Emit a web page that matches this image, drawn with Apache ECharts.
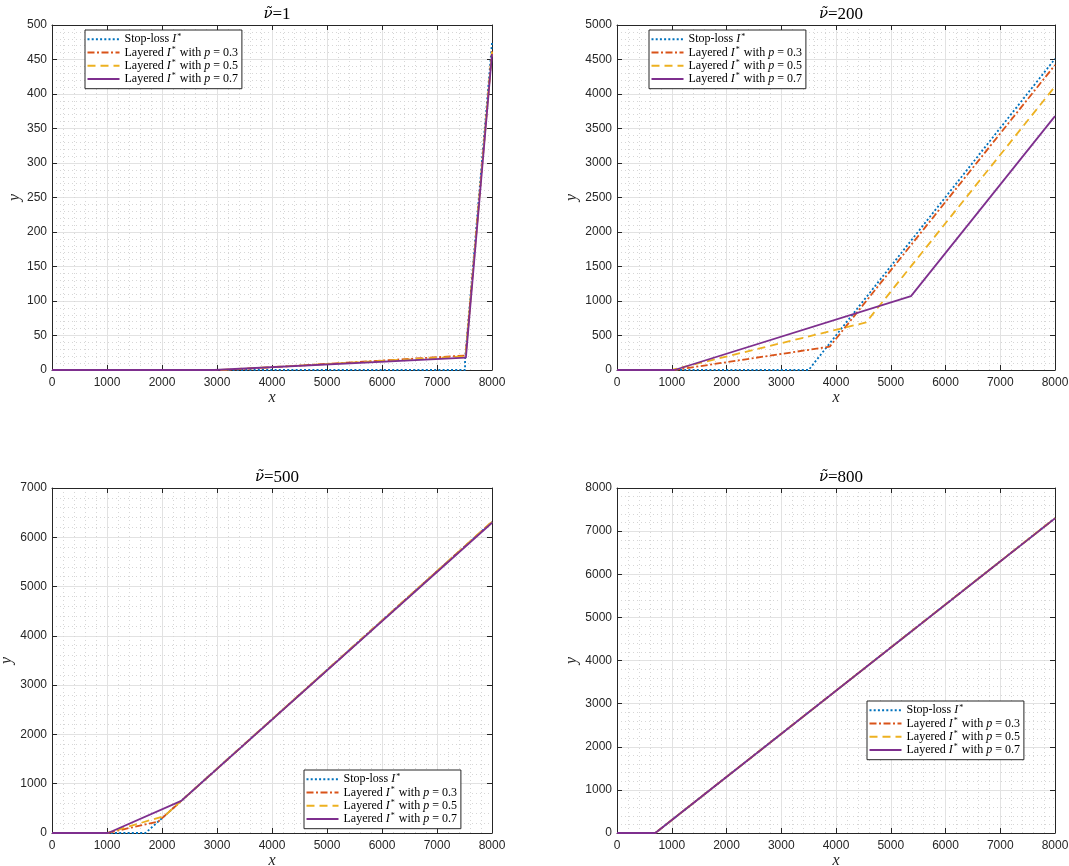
<!DOCTYPE html>
<html>
<head>
<meta charset="utf-8">
<script src="https://cdn.jsdelivr.net/npm/echarts@6/dist/echarts.min.js"></script>
<style>
  html, body { margin: 0; padding: 0; background: #ffffff; }
  #chart { width: 1069px; height: 866px; }
</style>
</head>
<body>
<div id="chart"></div>
<script>
// Panel parameters
const panelNu = ['1', '200', '500', '800'];
const xMin = 0;
const xMax = 8000;
const xStep = 1000;
const yMaxes = [500, 5000, 7000, 8000];
const ySteps = [50, 500, 1000, 1000];

const seriesNames = [
  'Stop-loss I*',
  'Layered I* with p = 0.3',
  'Layered I* with p = 0.5',
  'Layered I* with p = 0.7'
];

// nu = 1
const stopLossNu1  = [[0, 0], [7510, 0], [7510, 15], [8000, 474]];
const layered03Nu1 = [[0, 0], [3150, 0], [7520, 21], [8000, 462]];
const layered05Nu1 = [[0, 0], [3050, 0], [7520, 20], [8000, 461]];
const layered07Nu1 = [[0, 0], [2950, 0], [7525, 18], [8000, 458]];

// nu = 200
const stopLossNu200  = [[0, 0], [3500, 0], [8000, 4510]];
const layered03Nu200 = [[0, 0], [1050, 0], [3885, 338], [8000, 4420]];
const layered05Nu200 = [[0, 0], [990, 0], [4550, 690], [8000, 4110]];
const layered07Nu200 = [[0, 0], [1050, 0], [5370, 1070], [8000, 3680]];

// nu = 500
const stopLossNu500  = [[0, 0], [1700, 0], [8000, 6310]];
const layered03Nu500 = [[0, 0], [1000, 0], [1930, 230], [8000, 6312]];
const layered05Nu500 = [[0, 0], [1000, 0], [2045, 346], [8000, 6318]];
const layered07Nu500 = [[0, 0], [1020, 0], [2350, 651], [8000, 6295]];

// nu = 800
const stopLossNu800  = [[0, 0], [700, 0], [8000, 7300]];
const layered03Nu800 = [[0, 0], [700, 0], [8000, 7300]];
const layered05Nu800 = [[0, 0], [700, 0], [8000, 7300]];
const layered07Nu800 = [[0, 0], [700, 0], [8000, 7295]];

const panelData = [
  [stopLossNu1, layered03Nu1, layered05Nu1, layered07Nu1],
  [stopLossNu200, layered03Nu200, layered05Nu200, layered07Nu200],
  [stopLossNu500, layered03Nu500, layered05Nu500, layered07Nu500],
  [stopLossNu800, layered03Nu800, layered05Nu800, layered07Nu800]
];

// Layout
const grids = [
  { left: 52,  top: 25,  width: 440, height: 345 },
  { left: 617, top: 25,  width: 438, height: 345 },
  { left: 52,  top: 488, width: 440, height: 345 },
  { left: 617, top: 488, width: 438, height: 345 }
];
const legendSpots = [
  { left: 85,  top: 30 },
  { left: 649, top: 30 },
  { left: 304, top: 770 },
  { left: 867, top: 701 }
];
const yNameGaps = [29, 37, 37, 37];

const ink = '#262626';
const lineStyles = [
  { color: '#0072BD', type: [2, 2.2] },
  { color: '#D95319', type: [7, 2.5, 2, 2.5] },
  { color: '#EDB120', type: [8, 5] },
  { color: '#7E2F8E', type: 'solid' }
];

const tickFont = { fontFamily: 'Liberation Sans, Arial, Helvetica, sans-serif', fontSize: 12, color: ink };
const serif = 'Liberation Serif, DejaVu Serif, serif';

const legendRich = {
  t: { fontFamily: serif, fontSize: 12, color: '#000', lineHeight: 13.3 },
  i: { fontFamily: serif, fontSize: 12, fontStyle: 'italic', color: '#000', lineHeight: 13.3 },
  s: { fontFamily: serif, fontSize: 8, color: '#000', lineHeight: 13.3, verticalAlign: 'top', padding: [0, 1, 0, 1] }
};

function legendLabel(name) {
  const m = name.match(/^(.*?)I\*(.*)$/);
  let out = '{t|' + m[1] + '}{i|I}{s|*}';
  const rest = m[2];
  const pm = rest.match(/^(.*?)p( = .*)$/);
  if (pm) {
    out += '{t|' + pm[1] + '}{i|p}{t|' + pm[2] + '}';
  } else if (rest) {
    out += '{t|' + rest + '}';
  }
  return out;
}

const xAxes = [], yAxes = [], series = [], titles = [], legends = [];

grids.forEach((g, p) => {
  const common = { gridIndex: p, type: 'value' };
  xAxes.push(Object.assign({}, common, {
    min: xMin, max: xMax, interval: xStep, position: 'bottom',
    axisLine: { show: true, onZero: false, lineStyle: { color: ink, width: 1 } },
    axisTick: { show: true, inside: true, length: 5, lineStyle: { color: ink } },
    axisLabel: Object.assign({ margin: 7, formatter: v => String(v) }, tickFont),
    splitLine: { show: true, lineStyle: { color: '#e2e2e2', width: 1 } },
    minorTick: { show: false, splitNumber: 5 },
    minorSplitLine: { show: true, lineStyle: { color: '#d6d6d6', width: 1, type: [1, 3] } },
    name: 'x', nameLocation: 'middle', nameGap: 20,
    nameTextStyle: { fontFamily: serif, fontStyle: 'italic', fontSize: 16, color: ink }
  }));
  xAxes.push(Object.assign({}, common, {
    min: xMin, max: xMax, interval: xStep, position: 'top',
    axisLine: { show: true, onZero: false, lineStyle: { color: ink, width: 1 } },
    axisTick: { show: true, inside: true, length: 5, lineStyle: { color: ink } },
    axisLabel: { show: false },
    splitLine: { show: false }
  }));
  yAxes.push(Object.assign({}, common, {
    min: 0, max: yMaxes[p], interval: ySteps[p], position: 'left',
    axisLine: { show: true, onZero: false, lineStyle: { color: ink, width: 1 } },
    axisTick: { show: true, inside: true, length: 5, lineStyle: { color: ink } },
    axisLabel: Object.assign({ margin: 5, formatter: v => String(v) }, tickFont),
    splitLine: { show: true, lineStyle: { color: '#e2e2e2', width: 1 } },
    minorTick: { show: false, splitNumber: 5 },
    minorSplitLine: { show: true, lineStyle: { color: '#d6d6d6', width: 1, type: [1, 3] } },
    name: 'y', nameLocation: 'middle', nameGap: yNameGaps[p],
    nameTextStyle: { fontFamily: serif, fontStyle: 'italic', fontSize: 16, color: ink }
  }));
  yAxes.push(Object.assign({}, common, {
    min: 0, max: yMaxes[p], interval: ySteps[p], position: 'right',
    axisLine: { show: true, onZero: false, lineStyle: { color: ink, width: 1 } },
    axisTick: { show: true, inside: true, length: 5, lineStyle: { color: ink } },
    axisLabel: { show: false },
    splitLine: { show: false }
  }));

  panelData[p].forEach((d, s) => {
    series.push({
      type: 'line',
      name: seriesNames[s],
      xAxisIndex: 2 * p,
      yAxisIndex: 2 * p,
      data: d,
      symbol: 'none',
      showSymbol: false,
      clip: true,
      animation: false,
      lineStyle: { color: lineStyles[s].color, type: lineStyles[s].type, width: 1.8 },
      itemStyle: { color: lineStyles[s].color },
      z: 3 + s
    });
  });

  titles.push({
    text: '{nu|\u03BD\u0303}{eq|=' + panelNu[p] + '}',
    left: g.left + g.width / 2,
    top: p < 2 ? 1 : 464,
    textAlign: 'center',
    textStyle: {
      fontWeight: 'normal',
      rich: {
        nu: { fontFamily: 'DejaVu Serif, serif', fontStyle: 'italic', fontWeight: 'normal', fontSize: 15, color: '#000' },
        eq: { fontFamily: serif, fontWeight: 'normal', fontSize: 17, color: '#000' }
      }
    }
  });

  legends.push({
    show: true,
    orient: 'vertical',
    left: legendSpots[p].left,
    top: legendSpots[p].top,
    data: seriesNames.slice(),
    itemWidth: 32,
    itemHeight: 10,
    itemGap: 0,
    padding: [2.5, 4, 3, 1.5],
    borderColor: ink,
    borderWidth: 1,
    backgroundColor: '#ffffff',
    selectedMode: false,
    formatter: legendLabel,
    itemStyle: { color: 'rgba(0,0,0,0)', borderColor: 'rgba(0,0,0,0)', borderWidth: 0 },
    textStyle: { fontFamily: serif, fontSize: 12, lineHeight: 13.3, color: '#000', rich: legendRich },
    z: 10
  });
});

const chart = echarts.init(document.getElementById('chart'), null, { renderer: 'canvas' });
chart.setOption({
  backgroundColor: '#ffffff',
  animation: false,
  title: titles,
  legend: legends,
  grid: grids.map(g => Object.assign({ containLabel: false, outerBoundsMode: 'none', show: false }, g)),
  xAxis: xAxes,
  yAxis: yAxes,
  series: series
});
</script>
</body>
</html>
